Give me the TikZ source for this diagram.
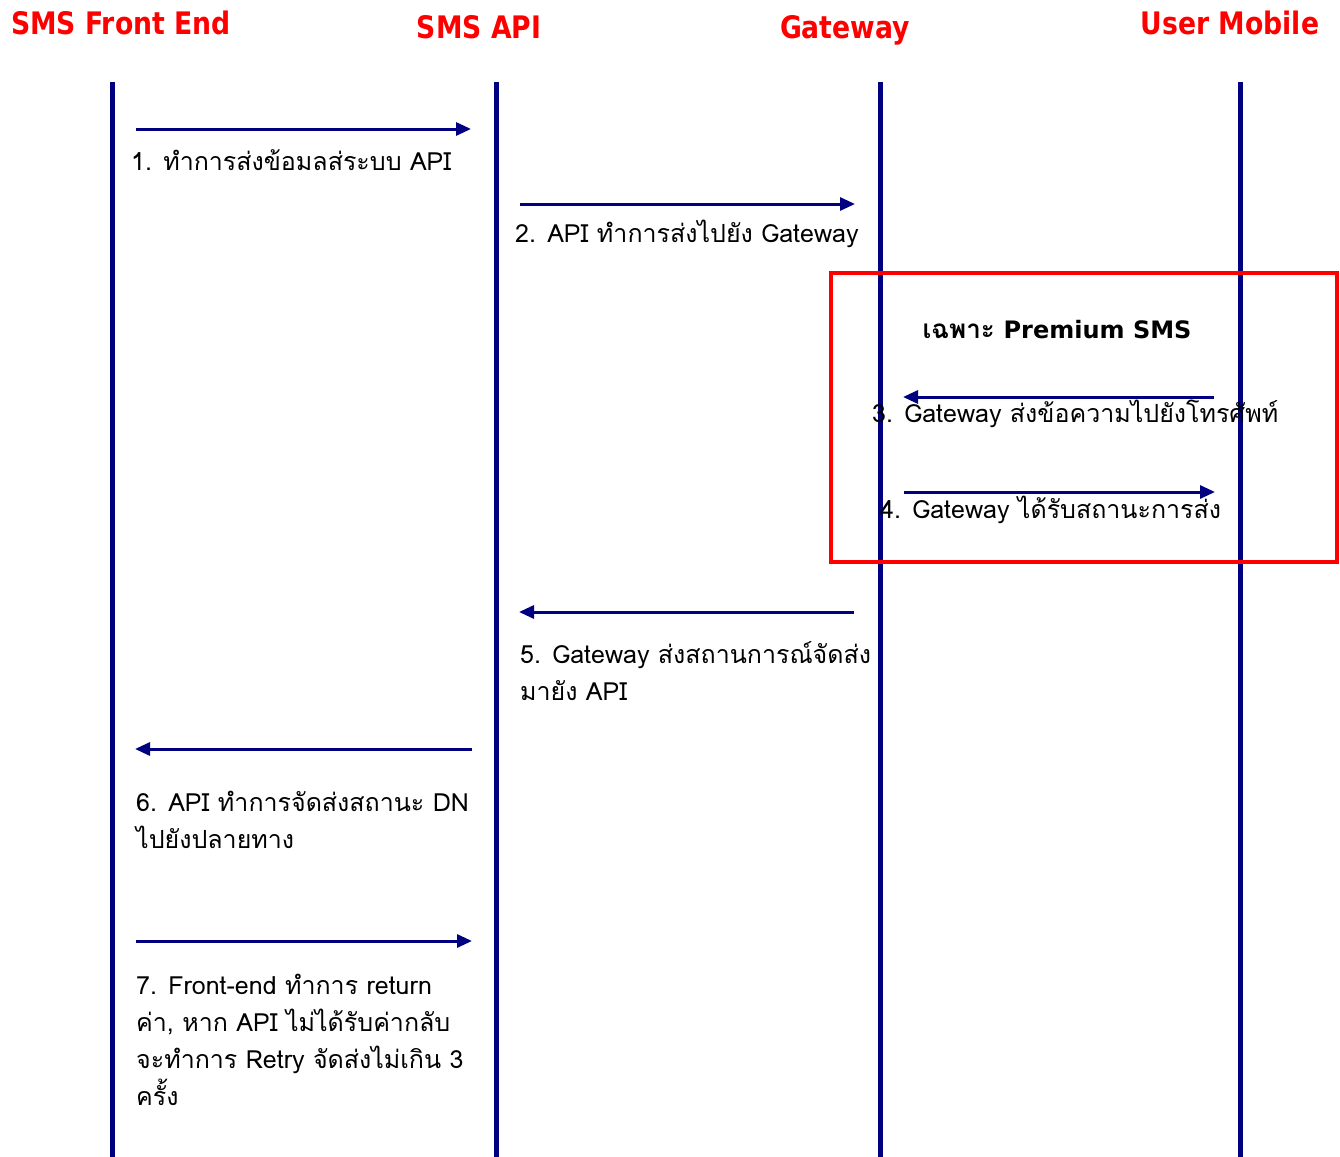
\documentclass[tikz,border=0pt]{standalone}
\usepackage{fontspec}
\setmainfont{Loma}[Script=Thai]
\newfontfamily\headfont{DejaVu Sans}
\usetikzlibrary{arrows.meta}
\definecolor{navy}{RGB}{0,0,128}
\definecolor{hred}{RGB}{255,0,0}
\begin{document}
\begin{tikzpicture}[x=1pt,y=-1pt,
  life/.style={draw=navy, line width=5pt},
  msg/.style={draw=navy, line width=3pt, -{Triangle[length=15pt,width=13pt]}},
  lbl/.style={anchor=base west, inner sep=0, font=\fontsize{25}{37}\selectfont, align=left},
  head/.style={text=hred, anchor=base, inner sep=0, font=\headfont\bfseries\fontsize{31}{31}\selectfont},
  boxframe/.style={draw=hred, line width=4pt}]
\useasboundingbox (0,0) rectangle (1340,1156);
% headers
\node[head] (hfe) at (121,35) {\scalebox{0.86}[1]{SMS Front End}};
\node[head] (hapi) at (479,38) {\scalebox{0.86}[1]{SMS API}};
\node[head] (hgw) at (845,38) {\scalebox{0.86}[1]{Gateway}};
\node[head] (hum) at (1230,35) {\scalebox{0.86}[1]{User Mobile}};
% lifelines
\coordinate (fet) at (112,82);  \coordinate (feb) at (112,1160);
\coordinate (apt) at (496,82);  \coordinate (apb) at (496,1160);
\coordinate (gwt) at (880,82);  \coordinate (gwb) at (880,1160);
\coordinate (umt) at (1240,82); \coordinate (umb) at (1240,1160);
\draw[life] (fet) -- (feb);
\draw[life] (apt) -- (apb);
\draw[life] (gwt) -- (gwb);
\draw[life] (umt) -- (umb);
% premium box
\draw[boxframe] (831,273) rectangle (1337,562);
\node[anchor=base, inner sep=0, font=\fontsize{26}{30}\selectfont] (prem) at (1057,338) {{\bfseries เฉพาะ} {\headfont\bfseries\fontsize{24}{30}\selectfont Premium SMS}};
% messages
\coordinate (m1s) at (136,129); \coordinate (m1e) at (471,129);
\coordinate (m2s) at (520,204); \coordinate (m2e) at (855,204);
\coordinate (m3s) at (1214,397); \coordinate (m3e) at (903,397);
\coordinate (m4s) at (904,492); \coordinate (m4e) at (1215,492);
\coordinate (m5s) at (854,612); \coordinate (m5e) at (519,612);
\coordinate (m6s) at (472,749); \coordinate (m6e) at (135,749);
\coordinate (m7s) at (136,941); \coordinate (m7e) at (472,941);
\draw[msg] (m1s) -- (m1e);
\draw[msg] (m2s) -- (m2e);
\draw[msg] (m3s) -- (m3e);
\draw[msg] (m4s) -- (m4e);
\draw[msg] (m5s) -- (m5e);
\draw[msg] (m6s) -- (m6e);
\draw[msg] (m7s) -- (m7e);
% labels (base = baseline of last line)
\node[lbl] (l1) at (131,170) {1. ทำการส่งข้อมลส่ระบบ API};
\node[lbl] (l2) at (515,242) {2. API ทำการส่งไปยัง Gateway};
\node[lbl] (l3) at (872,422) {3. Gateway ส่งข้อความไปยังโทรศัพท์};
\node[lbl] (l4) at (880,518) {4. Gateway ได้รับสถานะการส่ง};
\node[lbl] (l5) at (520,700) {5. Gateway ส่งสถานการณ์จัดส่ง\\มายัง API};
\node[lbl] (l6) at (136,848) {6. API ทำการจัดส่งสถานะ DN\\ไปยังปลายทาง};
\node[lbl] (l7) at (136,1105) {7. Front-end ทำการ return\\ค่า, หาก API ไม่ได้รับค่ากลับ\\จะทำการ Retry จัดส่งไม่เกิน 3\\ครั้ง};
\end{tikzpicture}
\end{document}
